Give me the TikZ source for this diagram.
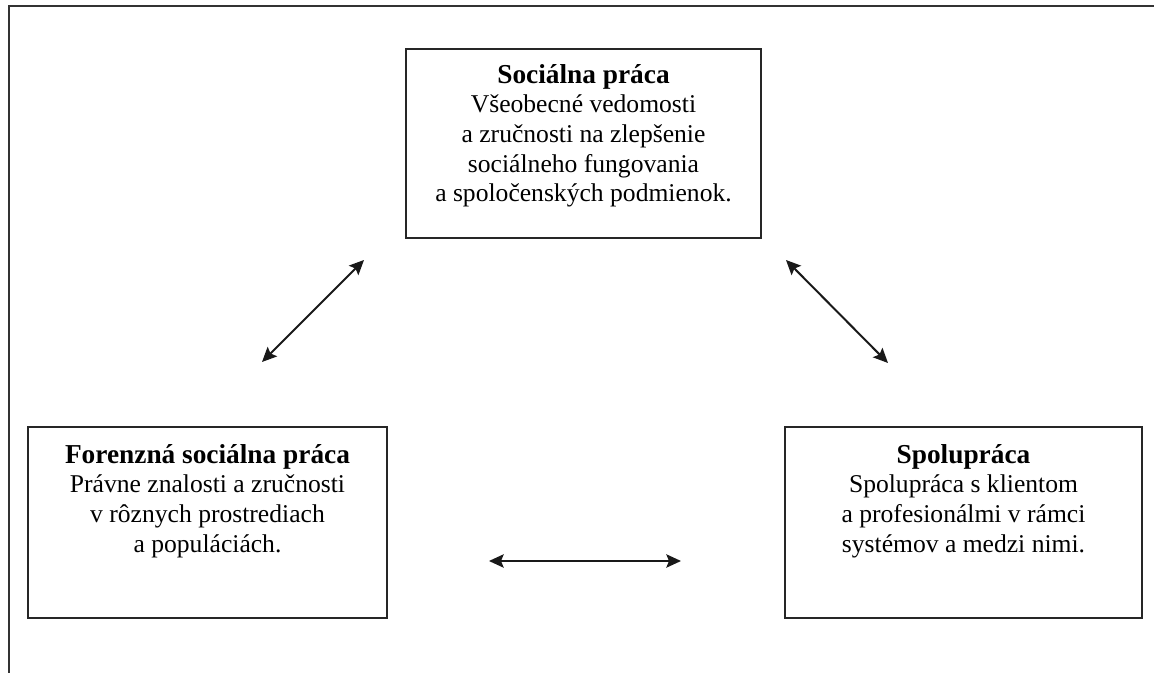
\documentclass[tikz,border=0pt]{standalone}
\usepackage{fontspec}
\setmainfont{Liberation Serif}
\usetikzlibrary{arrows.meta}
\tikzset{
  frameline/.style={line width=1.6pt, draw=black!80},
  boxst/.style={draw=black!85, line width=1.3pt, rectangle, inner sep=0pt, outer sep=0pt},
  txt/.style={align=center, inner sep=0pt, anchor=north, font=\fontsize{19.2pt}{22.2pt}\selectfont},
  link/.style={line width=1.5pt, draw=black!90, {Stealth[length=11pt,width=10pt,inset=2pt]}-{Stealth[length=11pt,width=10pt,inset=2pt]}}
}
\newcommand{\ttlfont}{\bfseries\fontsize{20.5pt}{22.2pt}\selectfont}
\begin{document}
\begin{tikzpicture}[x=0.75pt,y=-0.75pt]
\useasboundingbox (0,0) rectangle (1154,673);
% outer frame (top and left only)
\coordinate (fr1) at (1154,6);
\coordinate (fr2) at (9,6);
\coordinate (fr3) at (9,673);
\draw[frameline] (fr1) -- (fr2) -- (fr3);
% boxes
\node[boxst, minimum width=266.25pt, minimum height=141.75pt] (b1) at (583.5,143.5) {};
\node[boxst, minimum width=269.25pt, minimum height=143.25pt] (b2) at (207.5,522.5) {};
\node[boxst, minimum width=267.75pt, minimum height=143.25pt] (b3) at (963.5,522.5) {};
% texts
\node[txt] (t1) at ([yshift=-9.5pt]b1.north) {\rule{0pt}{16pt}{\ttlfont Sociálna práca}\\Všeobecné vedomosti\\a zručnosti na zlepšenie\\sociálneho fungovania\\a spoločenských podmienok.};
\node[txt] (t2) at ([yshift=-11pt]b2.north) {\rule{0pt}{16pt}{\ttlfont Forenzná sociálna práca}\\Právne znalosti a zručnosti\\v rôznych prostrediach\\a populáciách.};
\node[txt] (t3) at ([yshift=-11pt]b3.north) {\rule{0pt}{16pt}{\ttlfont Spolupráca}\\Spolupráca s klientom\\a profesionálmi v rámci\\systémov a medzi nimi.};
% arrow ends
\coordinate (a1s) at (262,362);
\coordinate (a1e) at (364,260);
\coordinate (a2s) at (786,260);
\coordinate (a2e) at (888,363);
\coordinate (a3s) at (489,561);
\coordinate (a3e) at (681,561);
\draw[link] (a1s) -- (a1e);
\draw[link] (a2s) -- (a2e);
\draw[link] (a3s) -- (a3e);
\end{tikzpicture}
\end{document}
